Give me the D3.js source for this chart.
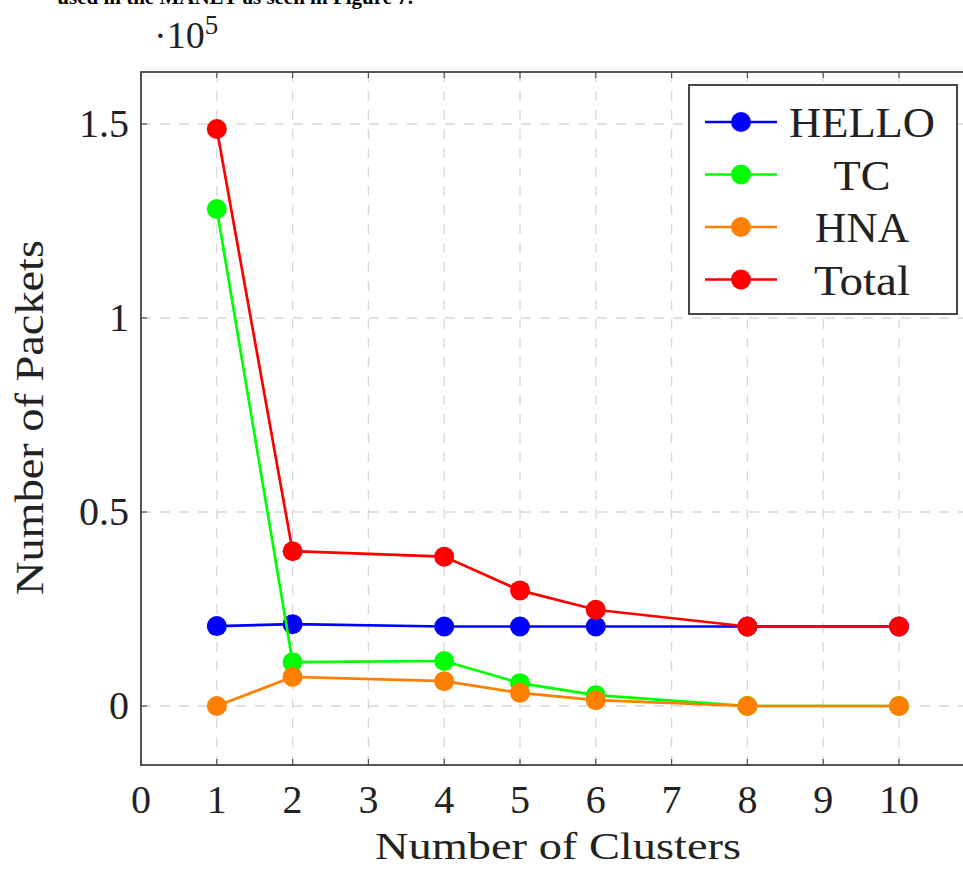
<!DOCTYPE html>
<html><head><meta charset="utf-8">
<script src="https://cdn.jsdelivr.net/npm/d3@7/dist/d3.min.js"></script>
<style>body{margin:0;background:#fff;overflow:hidden}svg{display:block}</style>
</head><body>
<script>
const clusters = [1, 2, 4, 5, 6, 8, 10];
const hello = [20600, 21100, 20500, 20500, 20500, 20500, 20500];
const tc    = [128100, 11300, 11600, 5900, 2800, 0, 0];
const hna   = [0, 7500, 6400, 3400, 1500, 0, 0];
const total = [148700, 39900, 38500, 29800, 24800, 20500, 20500];
const seriesNames = ["HELLO", "TC", "HNA", "Total"];
const seriesColors = ["#0000ff", "#00ff00", "#ff8000", "#ff0000"];
const xTicks = [0,1,2,3,4,5,6,7,8,9,10];
const yTicks = [0, 0.5, 1, 1.5];
const yTickLabels = ["0", "0.5", "1", "1.5"];

const W = 963, H = 869;
const font = "'Liberation Serif', 'Times New Roman', serif";
const svg = d3.select("body").append("svg").attr("width", W).attr("height", H);

const L = 141, T = 72, B = 765;
const x = d3.scaleLinear().domain([0, 11]).range([L, L + 11*75.8]);
const y = d3.scaleLinear().domain([-0.152, 1.634]).range([B, T]);
const R = x(11);

// cut-off caption text at top (as in the reference)
svg.append("text").attr("x", 413).attr("y", 4).attr("text-anchor", "end")
  .attr("font-family", font).attr("font-weight", "bold").attr("font-size", 21)
  .text("used in the MANET as seen in Figure 7.");

// grid
const grid = svg.append("g").attr("stroke", "#d8d8d8").attr("stroke-width", 1.3).attr("stroke-dasharray", "10,9");
grid.selectAll(".gx").data(xTicks.filter(d => d > 0)).enter().append("line")
  .attr("x1", d => x(d)).attr("x2", d => x(d)).attr("y1", T).attr("y2", B);
grid.selectAll(".gy").data(yTicks).enter().append("line")
  .attr("x1", L).attr("x2", R).attr("y1", d => y(d)).attr("y2", d => y(d));

// ticks (inside)
const tk = svg.append("g").attr("stroke", "#555").attr("stroke-width", 1.2);
xTicks.forEach(d => {
  tk.append("line").attr("x1", x(d)).attr("x2", x(d)).attr("y1", B).attr("y2", B - 6);
  tk.append("line").attr("x1", x(d)).attr("x2", x(d)).attr("y1", T).attr("y2", T + 6);
});
yTicks.forEach(d => {
  tk.append("line").attr("x1", L).attr("x2", L + 6).attr("y1", y(d)).attr("y2", y(d));
});

// frame
svg.append("rect").attr("x", L).attr("y", T).attr("width", R - L).attr("height", B - T)
  .attr("fill", "none").attr("stroke", "#444").attr("stroke-width", 1.8);

// tick labels
svg.selectAll(".xl").data(xTicks).enter().append("text")
  .attr("x", d => x(d)).attr("y", 813).attr("text-anchor", "middle")
  .attr("font-family", font).attr("font-size", 40).attr("fill", "#222").text(d => d);
svg.selectAll(".yl").data(yTicks).enter().append("text")
  .attr("x", 129).attr("y", d => y(d) + 13).attr("text-anchor", "end")
  .attr("font-family", font).attr("font-size", 40).attr("fill", "#222")
  .text((d, i) => yTickLabels[i]);

// axis titles
svg.append("text").attr("x", 375).attr("y", 859)
  .attr("textLength", 366).attr("lengthAdjust", "spacingAndGlyphs")
  .attr("font-family", font).attr("font-size", 37).attr("fill", "#222").text("Number of Clusters");
svg.append("text").attr("transform", "translate(43,595) rotate(-90)")
  .attr("textLength", 355).attr("lengthAdjust", "spacingAndGlyphs")
  .attr("font-family", font).attr("font-size", 40).attr("fill", "#222").text("Number of Packets");

// multiplier
const m = svg.append("text").attr("x", 154).attr("y", 48).attr("font-family", font)
  .attr("font-size", 38).attr("fill", "#222");
m.append("tspan").text("·10");
m.append("tspan").attr("dy", -14).attr("font-size", 27).text("5");

// series
const allSeries = [hello, tc, hna, total];
const line = d3.line().x(d => x(d[0])).y(d => y(d[1] / 1e5));
allSeries.forEach((vals, si) => {
  const pts = clusters.map((c, i) => [c, vals[i]]);
  const g = svg.append("g");
  g.append("path").attr("d", line(pts)).attr("fill", "none")
    .attr("stroke", seriesColors[si]).attr("stroke-width", 2.7);
  g.selectAll("circle").data(pts).enter().append("circle")
    .attr("cx", d => x(d[0])).attr("cy", d => y(d[1] / 1e5)).attr("r", 10)
    .attr("fill", seriesColors[si]);
});

// legend
const lg = svg.append("g");
lg.append("rect").attr("x", 689).attr("y", 85).attr("width", 268).attr("height", 229)
  .attr("fill", "#fff").attr("stroke", "#333").attr("stroke-width", 1.8);
const legendTextWidths = [146, 57, 94, 96];
seriesNames.forEach((n, i) => {
  const yy = 122 + i * 52.5;
  lg.append("line").attr("x1", 705).attr("x2", 777).attr("y1", yy).attr("y2", yy)
    .attr("stroke", seriesColors[i]).attr("stroke-width", 2.7);
  lg.append("circle").attr("cx", 741).attr("cy", yy).attr("r", 10).attr("fill", seriesColors[i]);
  lg.append("text").attr("x", 862 - legendTextWidths[i] / 2).attr("y", yy + 15)
    .attr("textLength", legendTextWidths[i]).attr("lengthAdjust", "spacingAndGlyphs")
    .attr("font-family", font).attr("font-size", 42).attr("fill", "#222").text(n);
});
</script>
</body></html>
